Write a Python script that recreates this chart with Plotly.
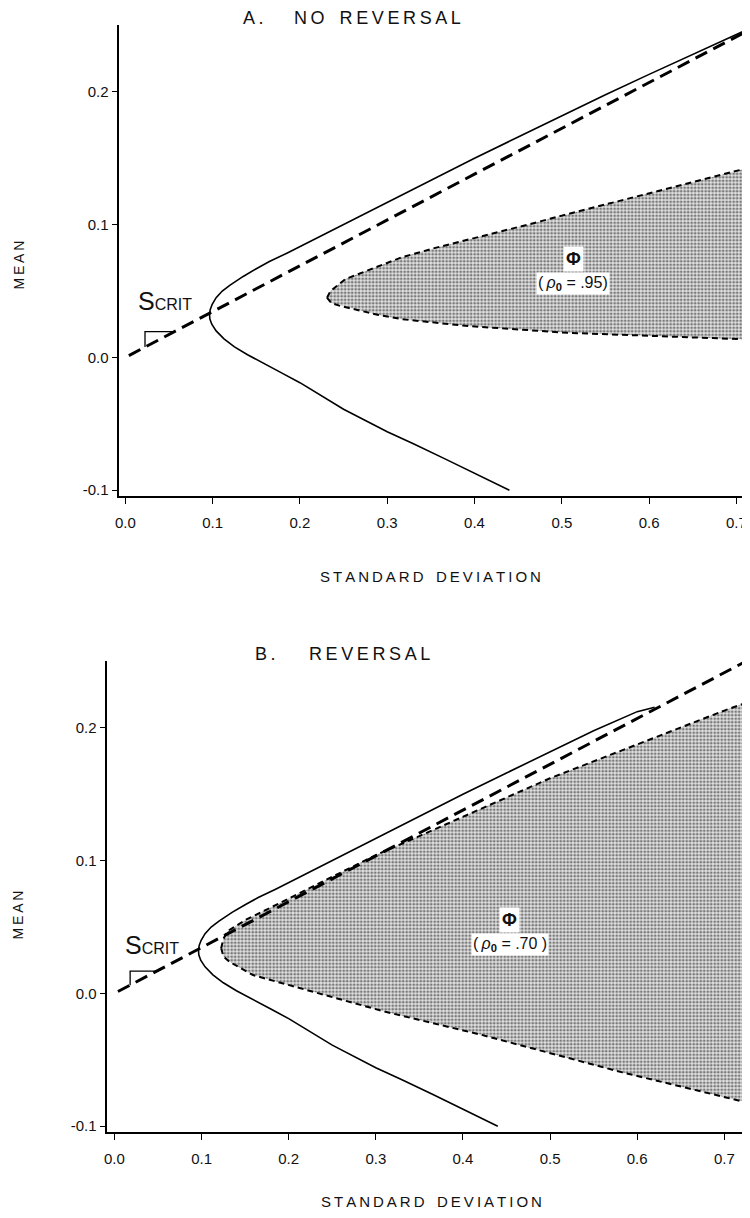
import plotly.graph_objects as go

# ---------------- data ----------------
sd_tick_vals = [0.0, 0.1, 0.2, 0.3, 0.4, 0.5, 0.6, 0.7]
sd_tick_text = ["0.0", "0.1", "0.2", "0.3", "0.4", "0.5", "0.6", "0.7"]
mean_tick_vals = [-0.1, 0.0, 0.1, 0.2]
mean_tick_text = ["-0.1", "0.0", "0.1", "0.2"]

# Panel A: efficient frontier (solid), lower end -> vertex -> upper end
frontier_sd_A = [0.44, 0.40, 0.365, 0.33, 0.30, 0.25, 0.20, 0.18, 0.16, 0.14, 0.125, 0.113, 0.104,
                 0.099, 0.0968, 0.0965, 0.0972, 0.0995, 0.104, 0.111, 0.12, 0.135, 0.150, 0.165,
                 0.185, 0.203, 0.240, 0.279, 0.317, 0.36, 0.40, 0.45, 0.50, 0.55, 0.60, 0.65,
                 0.70, 0.715]
frontier_mean_A = [-0.100, -0.087, -0.076, -0.065, -0.056, -0.039, -0.019, -0.012, -0.005, 0.002,
                   0.008, 0.014, 0.020, 0.025, 0.029, 0.0323, 0.036, 0.040, 0.045, 0.050, 0.0545,
                   0.061, 0.0668, 0.0722, 0.0785, 0.0845, 0.097, 0.1098, 0.1228, 0.137, 0.150,
                   0.166, 0.182, 0.1978, 0.2132, 0.2285, 0.2433, 0.2477]

# Panel B: frontier (merges into the dashed line near 0.61)
frontier_sd_B = [0.44, 0.40, 0.365, 0.33, 0.30, 0.25, 0.20, 0.18, 0.16, 0.14, 0.125, 0.113, 0.104,
                 0.099, 0.0968, 0.0965, 0.0972, 0.0995, 0.104, 0.111, 0.12, 0.135, 0.150, 0.165,
                 0.185, 0.203, 0.240, 0.279, 0.317, 0.36, 0.40, 0.45, 0.50, 0.55, 0.60, 0.62]
frontier_mean_B = [-0.100, -0.087, -0.076, -0.065, -0.056, -0.039, -0.019, -0.012, -0.005, 0.002,
                   0.008, 0.014, 0.020, 0.025, 0.029, 0.0323, 0.036, 0.040, 0.045, 0.050, 0.0545,
                   0.061, 0.0668, 0.0722, 0.0785, 0.0845, 0.097, 0.1098, 0.1228, 0.137, 0.150,
                   0.166, 0.182, 0.1978, 0.2122, 0.2155]

# critical-slope line (thick dashed)
crit_sd = [0.004, 0.73]
crit_mean = [0.0014, 0.2519]

# small slope marker next to S_CRIT
slope_sd_A = [0.0225, 0.0225, 0.0565]
slope_mean_A = [0.0078, 0.0195, 0.0195]
slope_sd_B = [0.018, 0.018, 0.049]
slope_mean_B = [0.0062, 0.0168, 0.0168]

# Phi region, panel A (rho0 = .95)
phi_up_sd_A = [0.231, 0.235, 0.252, 0.279, 0.317, 0.355, 0.393, 0.431, 0.461, 0.50, 0.55, 0.60,
               0.65, 0.70, 0.715]
phi_up_mean_A = [0.045, 0.050, 0.059, 0.066, 0.0755, 0.0825, 0.0887, 0.095, 0.100, 0.1068, 0.1152,
                 0.1236, 0.132, 0.1403, 0.143]
phi_lo_sd_A = [0.231, 0.236, 0.245, 0.26, 0.29, 0.317, 0.393, 0.506, 0.62, 0.715]
phi_lo_mean_A = [0.045, 0.041, 0.039, 0.0368, 0.032, 0.0288, 0.0236, 0.0186, 0.016, 0.0135]

# Phi region, panel B (rho0 = .70)
phi_up_sd_B = [0.1225, 0.125, 0.13, 0.151, 0.178, 0.204, 0.25, 0.30, 0.35, 0.40, 0.45, 0.50,
               0.55, 0.60, 0.65, 0.70, 0.7215]
phi_up_mean_B = [0.034, 0.041, 0.047, 0.0555, 0.0642, 0.0728, 0.0882, 0.1042, 0.1185, 0.1327,
                 0.1475, 0.162, 0.1748, 0.1876, 0.2003, 0.213, 0.218]
phi_lo_sd_B = [0.1225, 0.125, 0.132, 0.159, 0.2006, 0.256, 0.31, 0.42, 0.50, 0.583, 0.665, 0.7215]
phi_lo_mean_B = [0.034, 0.028, 0.0238, 0.0138, 0.0062, -0.0038, -0.0137, -0.031, -0.045, -0.0595,
                 -0.0725, -0.0815]

panel_titles = ["A.", "NO REVERSAL", "B.", "REVERSAL"]
phi_rho_labels = [".95)", ".70 )"]

# ---------------- figure ----------------
FONT = "Liberation Sans, Arial, Helvetica, sans-serif"
# the page body keeps an 8 px margin, so the figure is drawn 8 px in from the corner
OFF = 8
W, H = 750 - OFF, 1218 - OFF
TS = "\u2009"          # thin space used as letter spacing
NB = "\u00a0"


def spaced(s):
    return (NB * 3).join(TS.join(list(w)) for w in s.split(" "))


fig = go.Figure()


def add_panel(xa, ya, fr_sd, fr_mean, up_sd, up_mean, lo_sd, lo_mean, sl_sd, sl_mean):
    poly_x = up_sd + lo_sd[::-1]
    poly_y = up_mean + lo_mean[::-1]
    fig.add_trace(go.Scatter(x=poly_x, y=poly_y, xaxis=xa, yaxis=ya, mode="lines",
                             fill="toself", line=dict(width=0, color="rgba(0,0,0,0)"),
                             fillcolor="#b0b0b0",
                             fillpattern=dict(shape=".", fgcolor="#111111", bgcolor="#e2e2e2",
                                              size=3.5, solidity=0.5),
                             hoverinfo="skip", showlegend=False))
    for bx, by in ((up_sd, up_mean), (lo_sd, lo_mean)):
        fig.add_trace(go.Scatter(x=bx, y=by, xaxis=xa, yaxis=ya, mode="lines",
                                 line=dict(color="black", width=2, dash="6px,4px"),
                                 showlegend=False, hoverinfo="skip"))
    fig.add_trace(go.Scatter(x=fr_sd, y=fr_mean, xaxis=xa, yaxis=ya, mode="lines",
                             line=dict(color="black", width=1.6),
                             showlegend=False, hoverinfo="skip"))
    fig.add_trace(go.Scatter(x=crit_sd, y=crit_mean, xaxis=xa, yaxis=ya, mode="lines",
                             line=dict(color="black", width=3, dash="13px,7px"),
                             showlegend=False, hoverinfo="skip"))
    fig.add_trace(go.Scatter(x=sl_sd, y=sl_mean, xaxis=xa, yaxis=ya, mode="lines",
                             line=dict(color="black", width=1.3),
                             showlegend=False, hoverinfo="skip"))


add_panel("x", "y", frontier_sd_A, frontier_mean_A, phi_up_sd_A, phi_up_mean_A,
          phi_lo_sd_A, phi_lo_mean_A, slope_sd_A, slope_mean_A)
add_panel("x2", "y2", frontier_sd_B, frontier_mean_B, phi_up_sd_B, phi_up_mean_B,
          phi_lo_sd_B, phi_lo_mean_B, slope_sd_B, slope_mean_B)

# panel geometry in page pixels (converted to figure pixels below)
A_top, A_bot = 25, 497
B_top, B_bot = 662, 1134
A_left, B_left = 116, 104


def px(p):
    return (p - OFF) / W


def py(p):
    return 1 - (p - OFF) / H


axis_common = dict(showgrid=False, zeroline=False, showline=True, linecolor="black",
                   linewidth=1.8, ticks="outside", tickcolor="black", tickwidth=1.3,
                   ticklen=6, tickfont=dict(family=FONT, size=15, color="#111"),
                   mirror=False, ticklabeloverflow="allow")

fig.update_layout(
    width=W, height=H, margin=dict(l=0, r=0, t=0, b=0),
    paper_bgcolor="white", plot_bgcolor="white", showlegend=False,
    xaxis=dict(domain=[px(A_left), 1], range=[-0.0068, 0.7156], anchor="y",
               tickvals=sd_tick_vals, ticktext=sd_tick_text, ticklabelstandoff=6,
               **axis_common),
    yaxis=dict(domain=[py(A_bot), py(A_top)], range=[-0.1045, 0.2504], anchor="x",
               tickvals=mean_tick_vals, ticktext=mean_tick_text, ticklabelstandoff=0,
               **axis_common),
    xaxis2=dict(domain=[px(B_left), 1], range=[-0.008, 0.7295], anchor="y2",
                tickvals=sd_tick_vals, ticktext=sd_tick_text, ticklabelstandoff=6,
                **axis_common),
    yaxis2=dict(domain=[py(B_bot), py(B_top)], range=[-0.1045, 0.2504], anchor="x2",
                tickvals=mean_tick_vals, ticktext=mean_tick_text, ticklabelstandoff=0,
                **axis_common),
)

ann = []
# panel titles: "A." / "B." and the words
title_pos = [(238, 18), (290, 18), (250, 655), (305, 655)]
for txt, (tx, ty) in zip(panel_titles, title_pos):
    ann.append(dict(text=spaced(txt), x=px(tx), y=py(ty), xref="paper", yref="paper",
                    xanchor="left", yanchor="middle", showarrow=False,
                    font=dict(family=FONT, size=18, color="#111")))
# axis titles
for cy in (265, 916):
    ann.append(dict(text=spaced("MEAN"), x=px(15), y=py(cy), xref="paper", yref="paper",
                    textangle=-90, xanchor="center", yanchor="middle", showarrow=False,
                    font=dict(family=FONT, size=14, color="#111")))
for cx, cy in ((429, 577), (430, 1203)):
    ann.append(dict(text=spaced("STANDARD DEVIATION"),
                    x=px(cx), y=py(cy), xref="paper", yref="paper",
                    xanchor="center", yanchor="middle", showarrow=False,
                    font=dict(family=FONT, size=15, color="#111")))
# S_CRIT labels
for xr, yr, sx, sy in (("x", "y", 0.012, 0.0425), ("x2", "y2", 0.010, 0.0365)):
    ann.append(dict(text="S<span style='font-size:16px'>CRIT</span>", x=sx, y=sy,
                    xref=xr, yref=yr, xanchor="left", yanchor="middle", showarrow=False,
                    font=dict(family=FONT, size=25, color="#111")))
# Phi labels
for xr, yr, (sx, sy1, sy2), rho in (("x", "y", (0.513, 0.0745, 0.0556), phi_rho_labels[0]),
                                   ("x2", "y2", (0.4535, 0.0551, 0.0368), phi_rho_labels[1])):
    ann.append(dict(text="<b>\u03a6</b>", x=sx, y=sy1, xref=xr, yref=yr, showarrow=False,
                    bgcolor="white", borderpad=2,
                    font=dict(family=FONT, size=18, color="#111")))
    ann.append(dict(text="(" + TS + "<i>\u03c1</i><sub><b>0</b></sub>" + NB + "=" + NB + rho,
                    x=sx, y=sy2, xref=xr, yref=yr, showarrow=False,
                    bgcolor="white", borderpad=1,
                    font=dict(family=FONT, size=16, color="#111")))

fig.update_layout(annotations=ann)
fig.write_html("out.html")
